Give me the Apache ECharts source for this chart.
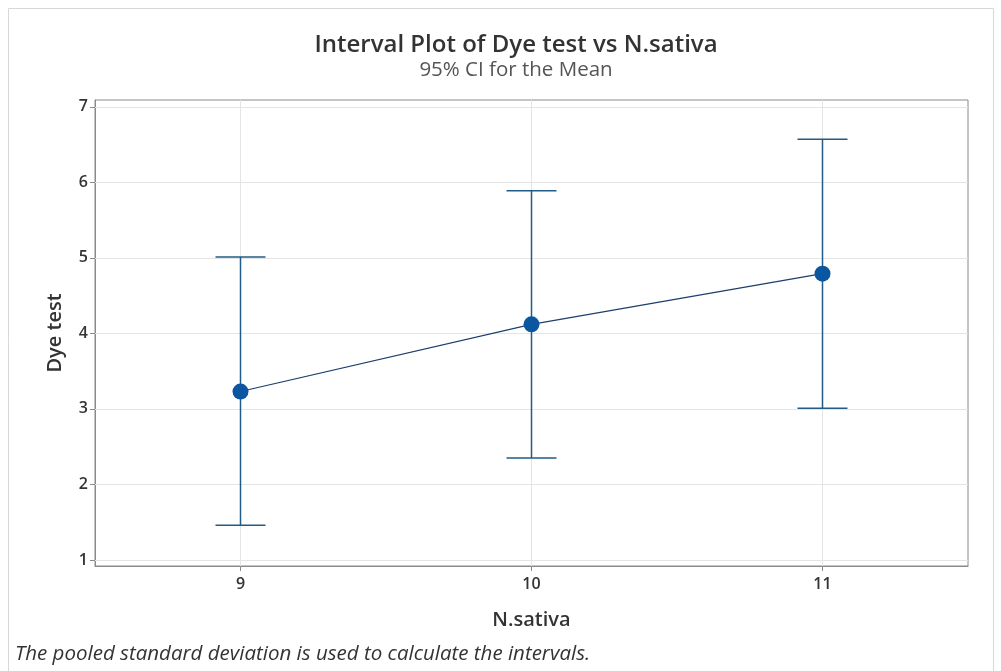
<!DOCTYPE html>
<html><head><meta charset="utf-8">
<script src="https://cdn.jsdelivr.net/npm/echarts@6/dist/echarts.min.js"></script>
<style>html,body{margin:0;padding:0;background:#fff}#c{width:1001px;height:671px}</style>
</head><body><div id="c"></div>
<script>
const nSativa = [9, 10, 11];
const means = [3.23, 4.12, 4.79];
const lower = [1.46, 2.35, 3.01];
const upper = [5.01, 5.89, 6.57];
const yTicks = [1, 2, 3, 4, 5, 6, 7];
const xTicks = [9, 10, 11];

const chart = echarts.init(document.getElementById('c'));
const F = '"Open Sans", "Noto Sans", sans-serif';
const errData = nSativa.map((x, i) => [x, lower[i], upper[i]]);
const meanData = nSativa.map((x, i) => [x, means[i]]);
const gridColor = '#e4e4e4';

chart.setOption({
  animation: false,
  graphic: [
    { type: 'rect', shape: { x: 8.5, y: 8.5, width: 985, height: 700 }, style: { fill: 'none', stroke: '#d8d8d8', lineWidth: 1 }, z: -1 },
    { type: 'text', left: 15, top: 644, style: { text: 'The pooled standard deviation is used to calculate the intervals.', font: 'italic 20.5px ' + F, fill: '#333' } }
  ],
  title: {
    text: 'Interval Plot of Dye test vs N.sativa',
    subtext: '95% CI for the Mean',
    left: 511, textAlign: 'center', top: 28, itemGap: 3,
    textStyle: { fontFamily: F, fontSize: 24, fontWeight: 600, color: '#333' },
    subtextStyle: { fontFamily: F, fontSize: 20.5, color: '#555' }
  },
  grid: { left: 95, right: 33, top: 100, bottom: 105, show: true, borderColor: '#8a8a8a', borderWidth: 1, backgroundColor: '#fff' },
  xAxis: {
    type: 'value', min: 8.5, max: 11.5,
    name: 'N.sativa', nameLocation: 'middle', nameGap: 44,
    nameTextStyle: { fontFamily: F, fontSize: 20, fontWeight: 600, color: '#333' },
    axisLine: { show: true, lineStyle: { color: '#8a8a8a' } },
    axisTick: { show: true, length: 5, lineStyle: { color: '#8a8a8a' }, customValues: xTicks },
    axisLabel: { customValues: xTicks, fontFamily: F, fontSize: 16, color: '#333', margin: 10, fontWeight: 600 },
    splitLine: { show: false }
  },
  yAxis: {
    type: 'value', min: 0.92, max: 7.09,
    name: 'Dye test', nameLocation: 'middle', nameGap: 30,
    nameTextStyle: { fontFamily: F, fontSize: 20, fontWeight: 600, color: '#333' },
    axisLine: { show: true, lineStyle: { color: '#8a8a8a' } },
    axisTick: { show: true, length: 5, lineStyle: { color: '#8a8a8a' }, customValues: yTicks },
    axisLabel: { customValues: yTicks, fontFamily: F, fontSize: 16, color: '#333', margin: 7, fontWeight: 600 },
    splitLine: { show: false }
  },
  series: [
    {
      type: 'line', data: meanData, z: 1, silent: true, showSymbol: false,
      lineStyle: { opacity: 0 },
      markLine: {
        silent: true, symbol: 'none', label: { show: false }, z: 1,
        lineStyle: { color: gridColor, type: 'solid', width: 1 },
        data: xTicks.map(v => ({ xAxis: v })).concat(yTicks.map(v => ({ yAxis: v })))
      }
    },
    {
      type: 'custom', data: errData, z: 3,
      renderItem: function (params, api) {
        const x = api.value(0);
        const lo = api.coord([x, api.value(1)]);
        const hi = api.coord([x, api.value(2)]);
        const w = 25;
        const st = { stroke: '#215b87', lineWidth: 1.5 };
        return {
          type: 'group', children: [
            { type: 'line', shape: { x1: lo[0], y1: lo[1], x2: hi[0], y2: hi[1] }, style: st },
            { type: 'line', shape: { x1: lo[0] - w, y1: lo[1], x2: lo[0] + w, y2: lo[1] }, style: st },
            { type: 'line', shape: { x1: hi[0] - w, y1: hi[1], x2: hi[0] + w, y2: hi[1] }, style: st }
          ]
        };
      }
    },
    {
      type: 'line', data: meanData, z: 4,
      symbol: 'circle', symbolSize: 16,
      itemStyle: { color: '#0a56a0' },
      lineStyle: { color: '#1d3f6e', width: 1.2 }
    }
  ]
});
</script></body></html>
